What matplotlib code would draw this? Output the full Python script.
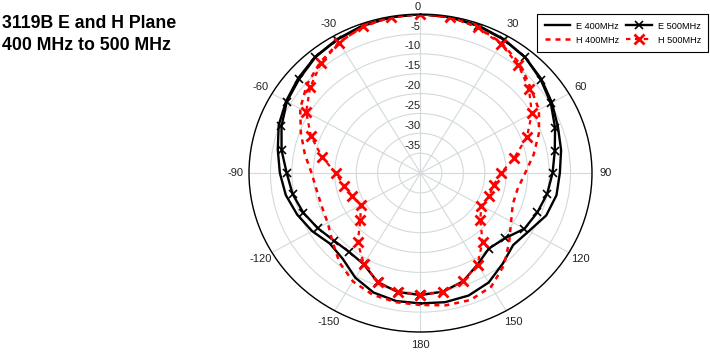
import numpy as np
import matplotlib.pyplot as plt

plt.rcParams['font.family'] = ['Liberation Sans', 'DejaVu Sans']

angles = [-180, -170, -160, -150, -140, -130, -120, -110, -100, -90,
          -80, -70, -60, -50, -40, -30, -20, -10, 0, 10, 20, 30, 40, 50,
          60, 70, 80, 90, 100, 110, 120, 130, 140, 150, 160, 170, 180]

e_400 = [-7.2, -7.3, -8.0, -9.6, -11.8, -12.4, -10.8, -9.4, -8.1, -7.2,
         -6.2, -4.8, -3.8, -2.8, -1.8, -1.1, -0.5, -0.1, 0.0, -0.1, -0.5, -1.1, -2.0, -3.2,
         -4.6, -5.9, -6.7, -7.5, -7.8, -8.8, -10.8, -11.8, -10.2, -8.2, -7.2, -7.0, -7.2]

e_500 = [-9.3, -9.6, -10.8, -13.5, -14.1, -13.6, -12.3, -10.9, -9.7, -8.8,
         -7.1, -5.5, -4.0, -3.1, -1.9, -1.2, -0.6, -0.2, 0.0, -0.2, -0.6, -1.2, -2.0, -3.4,
         -4.9, -6.6, -8.2, -9.2, -10.0, -11.0, -12.0, -14.4, -15.2, -13.4, -11.0, -9.7, -9.3]

h_400 = [-6.8, -7.0, -7.4, -8.5, -10.6, -13.2, -15.0, -15.5, -15.4, -14.6,
         -12.6, -10.3, -7.6, -5.4, -3.6, -2.0, -0.8, -0.1, 0.0, -0.1, -0.9, -2.2, -4.0, -6.5,
         -8.1, -10.6, -13.2, -15.6, -17.0, -17.1, -15.6, -13.0, -9.7, -7.0, -6.0, -6.2, -6.8]

h_500 = [-9.3, -9.6, -10.8, -13.6, -17.2, -21.7, -23.9, -23.0, -21.9, -20.2,
         -16.7, -12.8, -9.2, -6.4, -3.9, -2.1, -0.7, -0.1, 0.0, -0.1, -1.0, -2.5, -4.5, -7.0,
         -10.0, -13.6, -17.8, -21.2, -22.7, -23.0, -23.6, -21.8, -17.5, -13.4, -11.0, -9.7, -9.3]

r_ticks = [-35, -30, -25, -20, -15, -10, -5, 0]
theta_ticks = [0, 30, 60, 90, 120, 150, 180, 210, 240, 270, 300, 330]
theta_labels = ['', '30', '60', '90', '120', '150', '180',
                '-150', '-120', '-90', '-60', '-30']

th = np.deg2rad(angles)

fig = plt.figure(figsize=(7.1, 3.54), dpi=100)
ax = fig.add_axes([0.3507, 0.0621, 0.4831, 0.898], projection='polar')
ax.set_aspect('auto')
ax.set_theta_zero_location('N')
ax.set_theta_direction(-1)
ax.set_ylim(-40, 0)

ax.plot(th, e_400, color='black', lw=1.7, label='E 400MHz')
ax.plot(th, e_500, color='black', lw=1.7, marker='x', ms=6, mew=1.2,
        label='E 500MHz')
ax.plot(th, h_400, color='red', lw=1.8, linestyle=(0, (2, 2)),
        label='H 400MHz')
ax.plot(th, h_500, color='red', lw=1.6, linestyle=(0, (2, 2)), marker='x',
        ms=7.5, mew=2, label='H 500MHz')

ax.set_thetagrids(theta_ticks, theta_labels)
ax.set_yticks(r_ticks)
ax.set_yticklabels([])
ax.tick_params(axis='x', pad=-1, labelsize=8, colors='#222222')
ax.grid(True, color='#d3dadb', lw=0.8)
ax.spines['polar'].set_color('black')
ax.spines['polar'].set_linewidth(1.0)

for r in r_ticks:
    ax.text(0, r + 0.6, str(r), ha='right', va='bottom', fontsize=8,
            color='#222222')

fig.text(0.003, 0.958, '3119B E and H Plane\n400 MHz to 500 MHz',
         ha='left', va='top', fontsize=12.8, fontweight='bold',
         linespacing=1.4)

h, l = ax.get_legend_handles_labels()
order = [0, 2, 1, 3]
leg = fig.legend([h[i] for i in order], [l[i] for i in order], ncol=2,
                 loc='upper right', bbox_to_anchor=(1.0, 0.965),
                 fontsize=6.6, frameon=True, fancybox=False, framealpha=1,
                 edgecolor='black', handlelength=2.8, handletextpad=0.6,
                 columnspacing=0.8, borderpad=0.8, labelspacing=0.55,
                 borderaxespad=0.2)
leg.get_frame().set_linewidth(0.8)

fig.savefig('out.png', dpi=100)
